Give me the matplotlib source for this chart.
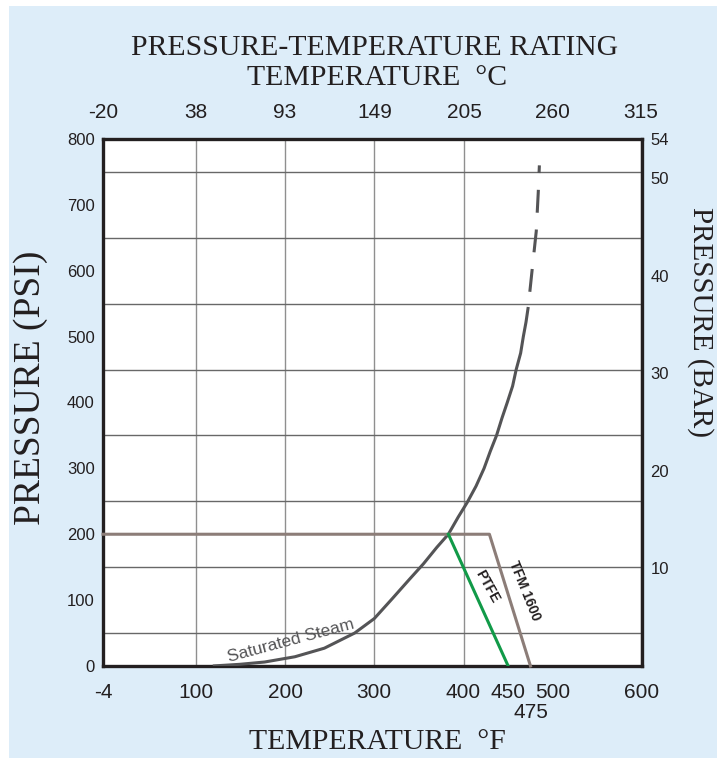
import numpy as np
import matplotlib
matplotlib.use("Agg")
import matplotlib.pyplot as plt
from matplotlib.patches import Rectangle

plt.rcParams["axes.unicode_minus"] = False

# ── data ─────────────────────────────────────────────────────────────────────
steam_f   = [119, 149, 177, 211, 244, 278, 300, 320, 339, 355, 370, 383,
             394, 404, 414, 423, 430, 437, 443, 449, 455, 459, 464, 467, 470, 472.5]
steam_psi = [0, 2.5, 6, 14, 27, 50, 72, 102, 131, 155, 180, 200,
             226, 248, 273, 300, 326, 350, 376, 400, 425, 450, 475, 500, 522, 545]
steam_dash_f   = [472.5, 477, 481.5, 483.7, 485]
steam_dash_psi = [545, 603, 660, 718, 760]

ptfe_f   = [383, 450]
ptfe_psi = [200, 0]
tfm_f    = [-4, 429, 475]
tfm_psi  = [200, 200, 0]

f_ticks   = [-4, 100, 200, 300, 400, 450, 500, 600]
c_ticks   = [-20, 38, 93, 149, 205, 260, 315]
psi_ticks = [0, 100, 200, 300, 400, 500, 600, 700, 800]
bar_ticks = [10, 20, 30, 40, 50, 54]

BG    = "#ddedf9"
INK   = "#231f20"
STEAM = "#545456"
TFM   = "#8c7d78"
GREEN = "#119a48"
SERIF = "Liberation Serif"
SANS  = "Liberation Sans"


def f2c(f):
    return (np.asarray(f) - 32) * 5 / 9


def c2f(c):
    return np.asarray(c) * 9 / 5 + 32


fig = plt.figure(figsize=(7.17, 7.58), dpi=100, facecolor="white")
# light-blue panel, with a thin white margin on the left and top
fig.patches.append(Rectangle((9 / 717, 0), 1, 1 - 6 / 758, transform=fig.transFigure,
                             facecolor=BG, edgecolor="none", zorder=-10))

ax = fig.add_axes([0.1437, 0.1214, 0.7517, 0.6952])
ax.set_facecolor("white")
ax.set_xlim(-4, 600)
ax.set_ylim(0, 800)

# grid: vertical lines at the Celsius ticks, horizontal every 50 psi
ax.set_xticks(c2f(c_ticks), minor=True)
ax.set_yticks(np.arange(0, 801, 50), minor=True)
ax.grid(which="minor", axis="x", color="#8f8f8f", lw=1.0)
ax.grid(which="minor", axis="y", color="#686868", lw=1.0)
ax.set_axisbelow(True)

ax.set_xticks(f_ticks)
ax.set_yticks(psi_ticks)
ax.tick_params(which="both", length=0)
ax.tick_params(axis="x", pad=12, labelsize=15, labelcolor=INK)
ax.tick_params(axis="y", pad=6, labelsize=12, labelcolor=INK)
for lab in ax.get_xticklabels() + ax.get_yticklabels():
    lab.set_fontfamily(SANS)
# second-row label under the TFM 1600 end point
ax.text(475, -0.089, "475", transform=ax.get_xaxis_transform(), ha="center",
        va="center", fontsize=15, family=SANS, color=INK)

for sp in ax.spines.values():
    sp.set_linewidth(2.4)
    sp.set_color(INK)

# curves
ax.plot(steam_f, steam_psi, color=STEAM, lw=2.2, solid_capstyle="butt", zorder=3)
ax.plot(steam_dash_f, steam_dash_psi, color=STEAM, lw=2.2,
        linestyle=(8, (7.5, 5.5)), zorder=3)
ax.plot(tfm_f, tfm_psi, color=TFM, lw=2.2, zorder=3, clip_on=False)
ax.plot(ptfe_f, ptfe_psi, color=GREEN, lw=2.2, zorder=4)

ax.text(207, 39, "Saturated Steam", rotation=15, ha="center", va="center",
        fontsize=12.5, color=STEAM, family=SANS, rotation_mode="anchor")
ax.text(426, 121, "PTFE", rotation=-61, ha="center", va="center",
        fontsize=10, color=INK, family=SANS, weight="bold", rotation_mode="anchor")
ax.text(468, 114, "TFM 1600", rotation=-68, ha="center", va="center",
        fontsize=10, color=INK, family=SANS, weight="bold", rotation_mode="anchor")

# top Celsius axis
top = ax.secondary_xaxis("top", functions=(f2c, c2f))
top.set_xticks(c_ticks)
top.tick_params(length=0, pad=12, labelsize=15, labelcolor=INK)
for lab in top.get_xticklabels():
    lab.set_fontfamily(SANS)
top.spines["top"].set_visible(False)

# right bar axis
right = ax.twinx()
right.set_ylim(0, 54)
right.set_yticks(bar_ticks)
right.tick_params(length=0, pad=6, labelsize=12, labelcolor=INK)
for lab in right.get_yticklabels():
    lab.set_fontfamily(SANS)
for sp in right.spines.values():
    sp.set_visible(False)

# titles and axis names
fig.text(0.523, 0.937, "PRESSURE-TEMPERATURE RATING", ha="center", va="center",
         fontsize=21.4, family=SERIF, color=INK)
fig.text(0.526, 0.897, "TEMPERATURE  °C", ha="center", va="center",
         fontsize=21.4, family=SERIF, color=INK)
fig.text(0.526, 0.021, "TEMPERATURE  °F", ha="center", va="center",
         fontsize=21.4, family=SERIF, color=INK)
fig.text(0.043, 0.488, "PRESSURE (PSI)", ha="center", va="center", rotation=90,
         fontsize=27, family=SERIF, color=INK)
fig.text(0.977, 0.575, "PRESSURE (BAR)", ha="center", va="center", rotation=-90,
         fontsize=21, family=SERIF, color=INK)

fig.savefig("out.png", dpi=100, facecolor="white")
